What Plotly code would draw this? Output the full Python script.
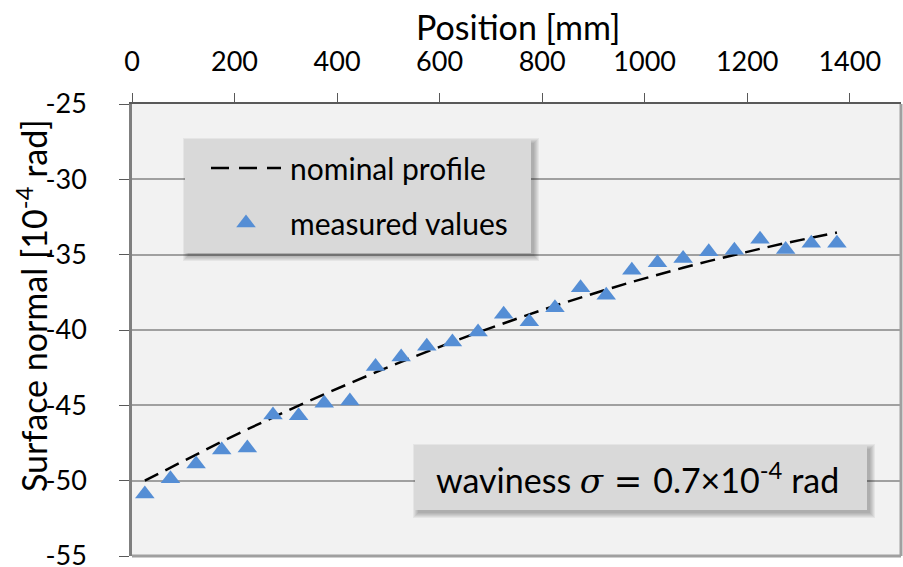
import plotly.graph_objects as go

# ---- data -------------------------------------------------------------
position_mm = [25, 75, 125, 175, 225, 275, 325, 375, 425, 475,
               525, 575, 625, 675, 725, 775, 825, 875, 925, 975,
               1025, 1075, 1125, 1175, 1225, 1275, 1325, 1375]

measured = [-50.88, -49.88, -48.90, -47.97, -47.84, -45.64, -45.69, -44.87,
            -44.71, -42.43, -41.79, -41.08, -40.79, -40.13, -38.95, -39.45,
            -38.53, -37.20, -37.69, -36.03, -35.54, -35.25, -34.81, -34.70,
            -33.97, -34.65, -34.25, -34.25]

nominal = [-50.00, -49.12, -48.25, -47.41, -46.59, -45.79, -45.02, -44.26,
           -43.52, -42.81, -42.11, -41.44, -40.79, -40.16, -39.55, -38.96,
           -38.39, -37.84, -37.32, -36.81, -36.33, -35.87, -35.43, -35.01,
           -34.61, -34.23, -33.87, -33.53]

x_ticks = [0, 200, 400, 600, 800, 1000, 1200, 1400]
y_ticks = [-55, -50, -45, -40, -35, -30, -25]
y_tick_text = ["-55", "-50", "-45", "-40", "-35", "-30", "-25"]

# ---- page geometry ----------------------------------------------------
W, H = 903, 567
ML, MR, MT, MB = 132, 2, 104, 11
PW, PH = W - ML - MR, H - MT - MB


def px(xp):
    """page pixel x -> paper x"""
    return (xp - ML) / PW


def py(yp):
    """page pixel y -> paper y"""
    return (H - MB - yp) / PH


FONT = "Lato"
BLUE = "#558ed5"
BOX = "#d9d9d9"

fig = go.Figure()

fig.add_trace(go.Scatter(
    x=position_mm, y=nominal, mode="lines",
    line=dict(color="black", width=2.5, dash="15px,8px"),
    showlegend=False, hoverinfo="skip",
))
fig.add_trace(go.Scatter(
    x=position_mm, y=measured, mode="markers",
    marker=dict(symbol="triangle-up", size=17, color=BLUE),
    showlegend=False,
))

shapes = []


def shadowed_box(x0, y0, x1, y1):
    # soft drop shadow to the lower right, then the grey box itself
    for s in range(5, -1, -1):
        shapes.append(dict(
            type="rect", xref="paper", yref="paper", layer="above",
            x0=px(x0 + 3 - s), x1=px(x1 + 3 + s),
            y0=py(y0 + 3 - s), y1=py(y1 + 3 + s),
            fillcolor="rgba(0,0,0,0.05)", line=dict(width=0),
        ))
    shapes.append(dict(
        type="rect", xref="paper", yref="paper", layer="above",
        x0=px(x0), x1=px(x1), y0=py(y0), y1=py(y1),
        fillcolor=BOX, line=dict(width=0),
    ))


# right and bottom frame of the plot area
shapes.append(dict(type="line", xref="paper", yref="paper", layer="above",
                   x0=1, x1=1, y0=0, y1=1,
                   line=dict(color="#a0a0a0", width=3)))
shapes.append(dict(type="line", xref="paper", yref="paper", layer="above",
                   x0=0, x1=1, y0=0, y1=0,
                   line=dict(color="#a0a0a0", width=3)))

# legend panel
shadowed_box(185, 140, 531, 253)
shapes.append(dict(type="line", xref="paper", yref="paper", layer="above",
                   x0=px(211), x1=px(281), y0=py(168), y1=py(168),
                   line=dict(color="black", width=2.5, dash="18px,10px")))
shapes.append(dict(type="path", layer="above",
                   xref="paper", yref="paper",
                   xsizemode="pixel", ysizemode="pixel",
                   xanchor=px(246), yanchor=py(223),
                   path="M -9.8,-4.25 L 9.8,-4.25 L 0,8.5 Z",
                   fillcolor=BLUE, line=dict(width=0)))

# waviness panel
shadowed_box(415, 446, 867, 510)

annotations = [
    dict(text="nominal profile", x=px(288), y=py(168), xanchor="left",
         yanchor="middle", font=dict(family=FONT, size=30, color="black")),
    dict(text="measured values", x=px(288), y=py(223), xanchor="left",
         yanchor="middle", font=dict(family=FONT, size=30, color="black")),
    dict(text=("waviness <i><span style='font-family:DejaVu Serif'>σ</span></i>"
               "<span style='font-family:DejaVu Serif'> = </span>"
               "0.7×10<sup>-4</sup> rad"),
         x=px(434), y=py(478), xanchor="left", yanchor="middle",
         font=dict(family=FONT, size=34, color="black")),
    dict(text="Position [mm]", x=px(518), y=py(26), xanchor="center",
         yanchor="middle", font=dict(family=FONT, size=34, color="black")),
    dict(text="Surface normal [10<sup>-4</sup> rad]", x=px(32), y=py(306),
         xanchor="center", yanchor="middle", textangle=-90,
         font=dict(family=FONT, size=34, color="black")),
]
for a in annotations:
    a.update(xref="paper", yref="paper", showarrow=False)

fig.update_layout(
    width=W, height=H,
    margin=dict(l=ML, r=MR, t=MT, b=MB, pad=0, autoexpand=False),
    paper_bgcolor="white", plot_bgcolor="#f2f2f2",
    showlegend=False,
    shapes=shapes, annotations=annotations,
    xaxis=dict(
        range=[0, 1500], side="top", tickvals=x_ticks,
        showgrid=False, zeroline=False, automargin=False,
        ticks="outside", ticklen=9, tickwidth=1.3, tickcolor="#595959",
        showline=True, linecolor="#595959", linewidth=2,
        tickfont=dict(family=FONT, size=27, color="black"),
        ticklabelstandoff=11, ticklabeloverflow="allow",
    ),
    yaxis=dict(
        range=[-55, -25], tickvals=y_ticks, ticktext=y_tick_text,
        showgrid=True, gridcolor="#a0a0a0", gridwidth=1.8,
        zeroline=False, automargin=False,
        ticks="outside", ticklen=10, tickwidth=1.3, tickcolor="#595959",
        showline=True, linecolor="#7f7f7f", linewidth=2.5,
        tickfont=dict(family=FONT, size=27, color="black"),
        ticklabelstandoff=27, ticklabeloverflow="allow",
    ),
)

fig.write_html("out.html")
